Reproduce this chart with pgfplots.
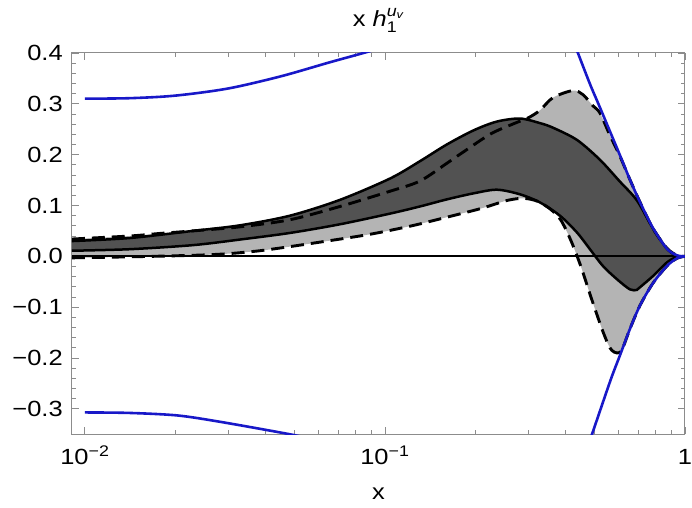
\documentclass[border=0pt]{standalone}
\usepackage{amsmath}
\usepackage{fontspec}
\setmainfont[FakeStretch=1.16]{Liberation Sans}
\usepackage{pgfplots}
\pgfplotsset{compat=1.18}
\usepgfplotslibrary{fillbetween}
\definecolor{darkband}{RGB}{82,82,82}
\definecolor{lightband}{RGB}{180,180,180}
\definecolor{bnd}{RGB}{24,24,200}
\definecolor{frm}{RGB}{140,140,140}
\begin{document}
\begin{tikzpicture}
\begin{axis}[
  at={(0,0)}, anchor=south west,
  scale only axis, width=614pt, height=382pt,
  xmode=log, xmin=0.00905, xmax=1,
  ymin=-0.35, ymax=0.4,
  xtick={0.01,0.1,1},
  xticklabels={10\textsuperscript{−2},10\textsuperscript{−1},1},
  minor xtick={0.02,0.03,0.04,0.05,0.06,0.07,0.08,0.09,0.2,0.3,0.4,0.5,0.6,0.7,0.8,0.9},
  ytick={-0.3,-0.2,-0.1,0,0.1,0.2,0.3,0.4},
  yticklabels={−0.3,−0.2,−0.1,0.0,0.1,0.2,0.3,0.4},
  minor y tick num=4,
  tick align=inside,
  major tick length=7pt, minor tick length=4pt,
  every tick/.style={frm, line width=0.8pt},
  axis line style={frm, line width=1pt},
  tick label style={font=\fontsize{22}{26}\selectfont, text=black},
  xticklabel style={anchor=base, yshift=-30pt, inner sep=0pt},
  yticklabel style={anchor=east, xshift=-9pt, inner sep=0pt},
  title={x $\textit{h}_{\text{1}}^{\textit{u}_{\textit{v}}}$},
  title style={at={(0.5,1)}, anchor=base, yshift=20pt, font=\fontsize{22}{26}\selectfont},
  xlabel={x},
  xlabel style={at={(0.5,0)}, anchor=base, yshift=-65pt, font=\fontsize{22}{26}\selectfont},
]
% light band (dashed bounds)
\addplot[draw=none, smooth, name path=LU] coordinates {
(0.00905,0.034) (0.01413,0.040) (0.01778,0.045) (0.02291,0.050) (0.0329,0.058)
(0.0483,0.072) (0.0708,0.098) (0.1040,0.128) (0.1308,0.148) (0.1609,0.183)
(0.1834,0.206) (0.2256,0.241) (0.2692,0.261) (0.2997,0.272) (0.3286,0.287)
(0.3631,0.312) (0.4233,0.326) (0.4571,0.318) (0.4936,0.296) (0.5207,0.282)
(0.5623,0.238) (0.6072,0.197) (0.6556,0.151) (0.7079,0.107) (0.7822,0.055)
(0.8710,0.016) (0.9404,0.002) (1,0)};
\addplot[draw=none, smooth, name path=LL] coordinates {
(0.00905,-0.003) (0.01413,-0.001) (0.02291,0.002) (0.0297,0.005) (0.0383,0.011)
(0.0494,0.020) (0.0641,0.030) (0.0825,0.040) (0.0962,0.047) (0.125,0.061)
(0.1609,0.077) (0.2089,0.094) (0.2560,0.110) (0.2906,0.114) (0.3236,0.108)
(0.3575,0.092) (0.3861,0.071) (0.4169,0.031) (0.4501,-0.020) (0.4861,-0.080)
(0.5269,-0.140) (0.5537,-0.172) (0.5710,-0.185) (0.5934,-0.190) (0.6166,-0.184)
(0.6556,-0.143) (0.7079,-0.097) (0.7822,-0.053) (0.8710,-0.019) (0.9404,-0.004) (1,0)};
\addplot[draw=none, smooth, name path=DU] coordinates {
(0.00905,0.030) (0.01413,0.036) (0.02291,0.050) (0.0329,0.061) (0.0483,0.080)
(0.0708,0.111) (0.1040,0.153) (0.1308,0.187) (0.1609,0.220) (0.1980,0.248)
(0.2362,0.265) (0.2818,0.271) (0.3286,0.262) (0.3631,0.253) (0.4365,0.229)
(0.5207,0.190) (0.6072,0.147) (0.6918,0.110) (0.7822,0.055) (0.8710,0.015)
(0.9404,0.001) (1,0)};
\addplot[draw=none, smooth, name path=DL] coordinates {
(0.00905,0.011) (0.01413,0.014) (0.02291,0.022) (0.0329,0.033) (0.0483,0.046)
(0.0708,0.063) (0.1040,0.084) (0.1308,0.098) (0.1609,0.112) (0.1980,0.124)
(0.2362,0.131) (0.2818,0.122) (0.3286,0.106) (0.3831,0.080) (0.4365,0.047)
(0.4824,0.014) (0.5330,-0.019) (0.5934,-0.045) (0.6556,-0.065) (0.6918,-0.066)
(0.7079,-0.061) (0.7822,-0.039) (0.8710,-0.012) (0.9404,-0.001) (1,0)};
\addplot[lightband] fill between[of=LU and LL];
\addplot[darkband] fill between[of=DU and DL];
% dashed bounds
\addplot[black, line width=2.9pt, dash pattern=on 13pt off 7pt, smooth] coordinates {
(0.00905,0.034) (0.01413,0.040) (0.01778,0.045) (0.02291,0.050) (0.0329,0.058)
(0.0483,0.072) (0.0708,0.098) (0.1040,0.128) (0.1308,0.148) (0.1609,0.183)
(0.1834,0.206) (0.2256,0.241) (0.2692,0.261) (0.2997,0.272) (0.3286,0.287)
(0.3631,0.312) (0.4233,0.326) (0.4571,0.318) (0.4936,0.296) (0.5207,0.282)
(0.5623,0.238) (0.6072,0.197) (0.6556,0.151) (0.7079,0.107) (0.7822,0.055)
(0.8710,0.016) (0.9404,0.002) (1,0)};
\addplot[black, line width=2.9pt, dash pattern=on 13pt off 7pt, smooth] coordinates {
(0.00905,-0.003) (0.01413,-0.001) (0.02291,0.002) (0.0297,0.005) (0.0383,0.011)
(0.0494,0.020) (0.0641,0.030) (0.0825,0.040) (0.0962,0.047) (0.125,0.061)
(0.1609,0.077) (0.2089,0.094) (0.2560,0.110) (0.2906,0.114) (0.3236,0.108)
(0.3575,0.092) (0.3861,0.071) (0.4169,0.031) (0.4501,-0.020) (0.4861,-0.080)
(0.5269,-0.140) (0.5537,-0.172) (0.5710,-0.185) (0.5934,-0.190) (0.6166,-0.184)
(0.6556,-0.143) (0.7079,-0.097) (0.7822,-0.053) (0.8710,-0.019) (0.9404,-0.004) (1,0)};
% solid bounds
\addplot[black, line width=2.5pt, smooth] coordinates {
(0.00905,0.030) (0.01413,0.036) (0.02291,0.050) (0.0329,0.061) (0.0483,0.080)
(0.0708,0.111) (0.1040,0.153) (0.1308,0.187) (0.1609,0.220) (0.1980,0.248)
(0.2362,0.265) (0.2818,0.271) (0.3286,0.262) (0.3631,0.253) (0.4365,0.229)
(0.5207,0.190) (0.6072,0.147) (0.6918,0.110) (0.7822,0.055) (0.8710,0.015)
(0.9404,0.001) (1,0)};
\addplot[black, line width=2.5pt, smooth] coordinates {
(0.00905,0.011) (0.01413,0.014) (0.02291,0.022) (0.0329,0.033) (0.0483,0.046)
(0.0708,0.063) (0.1040,0.084) (0.1308,0.098) (0.1609,0.112) (0.1980,0.124)
(0.2362,0.131) (0.2818,0.122) (0.3286,0.106) (0.3831,0.080) (0.4365,0.047)
(0.4824,0.014) (0.5330,-0.019) (0.5934,-0.045) (0.6556,-0.065) (0.6918,-0.066)
(0.7079,-0.061) (0.7822,-0.039) (0.8710,-0.012) (0.9404,-0.001) (1,0)};
% zero line
\addplot[black, line width=2.3pt] coordinates {(0.00905,0) (1,0)};
% Soffer-type bounds
\addplot[bnd, line width=2.6pt, smooth] coordinates {
(0.01,0.310) (0.01413,0.311) (0.02,0.316) (0.03,0.330) (0.045,0.354) (0.065,0.381) (0.085,0.400) (0.1,0.412)};
\addplot[bnd, line width=2.6pt, smooth] coordinates {
(0.01,-0.307) (0.01413,-0.308) (0.0204,-0.313) (0.0286,-0.326) (0.0483,-0.350) (0.06,-0.362)};
\addplot[bnd, line width=2.6pt, smooth] coordinates {
(0.4233,0.424) (0.4365,0.405) (0.4824,0.339) (0.5207,0.293) (0.5623,0.246)
(0.6072,0.199) (0.6556,0.151) (0.7079,0.107) (0.7822,0.056) (0.8710,0.015)
(0.9404,0.002) (1,0)};
\addplot[bnd, line width=2.6pt, smooth] coordinates {
(0.4571,-0.400) (0.4861,-0.356) (0.5330,-0.287) (0.5710,-0.236) (0.6072,-0.195)
(0.6556,-0.143) (0.7079,-0.097) (0.7822,-0.053) (0.8710,-0.019) (0.9404,-0.004) (1,0)};
\end{axis}
\path (-72pt,-73pt) rectangle (620pt,435pt);
\end{tikzpicture}
\end{document}
